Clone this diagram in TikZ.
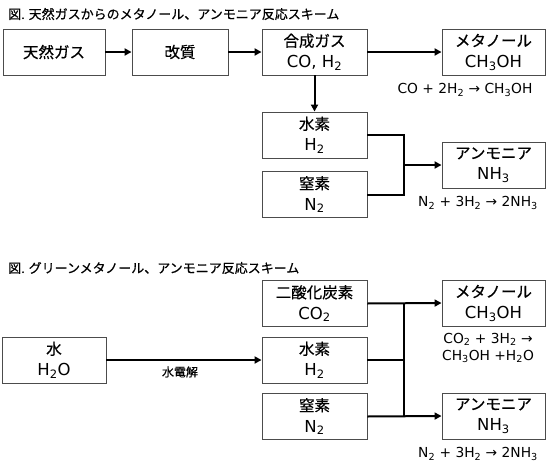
\documentclass[tikz,border=0pt]{standalone}
\usepackage{fontspec}
\setmainfont{DejaVu Sans}
\newfontfamily\jp{Noto Sans CJK JP}[FakeBold=0.5]
\usetikzlibrary{arrows.meta}
\newcommand{\sbs}[1]{\textsubscript{#1}}
\newcommand{\J}[1]{{\fontsize{15.5}{21}\selectfont\jp #1}}
\begin{document}
\begin{tikzpicture}[x=1pt,y=-1pt,
  box/.style={draw=black!70,line width=0.9pt,minimum height=46pt,inner sep=0pt,align=center,font=\fontsize{16.5}{21}\selectfont},
  conn/.style={line width=2pt,black},
  arr/.style={conn,-{Triangle[length=7pt,width=7pt]}},
  ttl/.style={anchor=west,font=\fontsize{13}{14}\selectfont\jp,inner sep=0pt},
  eqn/.style={font=\fontsize{13.8}{17}\selectfont,inner sep=0pt,align=center}]
\useasboundingbox (0,0) rectangle (549,469);
% section 1
\node[ttl] (t1) at (8,14) {図. 天然ガスからのメタノール、アンモニア反応スキーム};
\node[box,minimum width=102pt] (ng) at (54,52) {\J{天然ガス}};
\node[box,minimum width=96pt] (ref) at (180,52) {\J{改質}};
\node[box,minimum width=105pt] (syn) at (314.5,52) {\J{合成ガス}\\CO, H\sbs{2}};
\node[box,minimum width=103pt] (me1) at (493.5,52) {\J{メタノール}\\CH\sbs{3}OH};
\node[box,minimum width=105pt] (h1) at (314.5,135) {\J{水素}\\H\sbs{2}};
\node[box,minimum width=105pt] (n1) at (314.5,194.5) {\J{窒素}\\N\sbs{2}};
\node[box,minimum width=103pt] (am1) at (493.5,165) {\J{アンモニア}\\NH\sbs{3}};
\node[eqn] (e1) at (465,90) {CO + 2H\sbs{2} → CH\sbs{3}OH};
\node[eqn] (e2) at (478,203) {N\sbs{2} + 3H\sbs{2} → 2NH\sbs{3}};
\coordinate (j1) at (404,165);
\draw[arr] (ng) -- (ref);
\draw[arr] (ref) -- (syn);
\draw[arr] (syn) -- (me1);
\draw[arr] (syn) -- (h1);
\draw[conn] (h1.east) -| (j1) |- (n1.east);
\draw[arr] (j1) -- (am1.west);
% section 2
\node[ttl] (t2) at (8,268) {図. グリーンメタノール、アンモニア反応スキーム};
\node[box,minimum width=105pt] (co2) at (314.5,303.5) {\J{二酸化炭素}\\CO\sbs{2}};
\node[box,minimum width=103pt] (me2) at (493.5,303) {\J{メタノール}\\CH\sbs{3}OH};
\node[box,minimum width=104pt] (w) at (54,360) {\J{水}\\H\sbs{2}O};
\node[box,minimum width=105pt] (h2) at (314.5,360) {\J{水素}\\H\sbs{2}};
\node[box,minimum width=105pt] (n2) at (314.5,416.5) {\J{窒素}\\N\sbs{2}};
\node[box,minimum width=103pt] (am2) at (493.5,416) {\J{アンモニア}\\NH\sbs{3}};
\node[eqn] (e3) at (488,348) {CO\sbs{2} + 3H\sbs{2} →\\CH\sbs{3}OH +H\sbs{2}O};
\node[eqn] (e4) at (478,454) {N\sbs{2} + 3H\sbs{2} → 2NH\sbs{3}};
\node[font=\fontsize{12}{13}\selectfont\jp,inner sep=0pt] (el) at (180,372) {水電解};
\coordinate (ja) at (404,303);
\coordinate (jb) at (404,416);
\draw[arr] (w) -- (h2);
\draw[arr] (co2.east) -- (me2.west |- ja);
\draw[arr] (n2.east) -- (am2.west |- jb);
\draw[conn] (ja) -- (jb);
\draw[conn] (h2.east) -- (h2.east -| ja);
\end{tikzpicture}
\end{document}
